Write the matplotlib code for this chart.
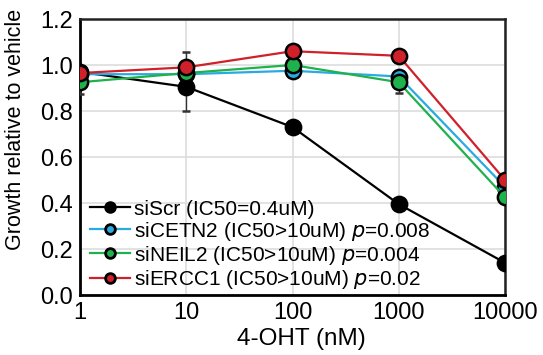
import matplotlib
matplotlib.use("Agg")
import matplotlib.pyplot as plt
from matplotlib.lines import Line2D

plt.rcParams['font.family'] = ['Liberation Sans', 'DejaVu Sans']

dose = [1, 10, 100, 1000, 10000]

scr = [0.97, 0.905, 0.73, 0.395, 0.14]
scr_err = [0.0, 0.105, 0.0, 0.0, 0.0]
cetn2 = [0.96, 0.96, 0.975, 0.95, 0.47]
cetn2_err = [0.0, 0.0, 0.0, 0.0, 0.0]
neil2 = [0.925, 0.965, 1.0, 0.925, 0.425]
neil2_err = [0.05, 0.0, 0.0, 0.045, 0.0]
ercc1 = [0.965, 0.99, 1.06, 1.04, 0.5]
ercc1_err = [0.0, 0.065, 0.0, 0.0, 0.0]

labels = ['siScr (IC50=0.4uM)',
          'siCETN2 (IC50>10uM) $p$=0.008',
          'siNEIL2 (IC50>10uM) $p$=0.004',
          'siERCC1 (IC50>10uM) $p$=0.02']
colors = ['#000000', '#29aae1', '#1fb14b', '#d0202a']
series = [scr, cetn2, neil2, ercc1]
errs = [scr_err, cetn2_err, neil2_err, ercc1_err]

fig = plt.figure(figsize=(5.43, 3.55), dpi=100)
ax = fig.add_axes([80 / 543, 60 / 355, 425 / 543, 276 / 355])

for vals, err, c in zip(series, errs, colors):
    ax.errorbar(dose, vals, yerr=err, color=c, lw=1.6, ecolor='#333333',
                elinewidth=1, capsize=3, marker='o', ms=11, mfc=c,
                mec='black', mew=1.8, zorder=3)

ax.set_xscale('log')
ax.set_xlim(1, 10000)
ax.set_ylim(0, 1.2)
ax.set_xticks(dose)
ax.set_xticklabels(['1', '10', '100', '1000', '10000'])
ax.set_yticks([0, 0.2, 0.4, 0.6, 0.8, 1.0, 1.2])
ax.set_yticklabels(['0.0', '0.2', '0.4', '0.6', '0.8', '1.0', '1.2'])
ax.minorticks_off()
ax.tick_params(labelsize=17, length=0, pad=5)
ax.grid(True, color='#dddddd', lw=1.2)
ax.set_axisbelow(True)
for s in ax.spines.values():
    s.set_linewidth(1.8)
    s.set_color('#222222')
for s in ['left', 'bottom']:
    ax.spines[s].set_color('black')
    ax.spines[s].set_linewidth(2)
for s in ax.spines.values():
    s.set_clip_on(False)

ax.set_xlabel('4-OHT (nM)', fontsize=17.5)
ax.xaxis.set_label_coords(0.52, -0.12)
ax.set_ylabel('Growth relative to vehicle', fontsize=15.5)
ax.yaxis.set_label_coords(-0.127, 0.6)

handles = [Line2D([], [], color=c, lw=1.6, marker='o', ms=7, mfc=c,
                  mec='black', mew=2) for c in colors]
ax.legend(handles, labels, loc='lower left', frameon=False, fontsize=15,
          handlelength=1.9, handletextpad=0.2, labelspacing=0.05,
          borderaxespad=0.0, bbox_to_anchor=(0.005, -0.015))

fig.savefig('out.png', dpi=100)
